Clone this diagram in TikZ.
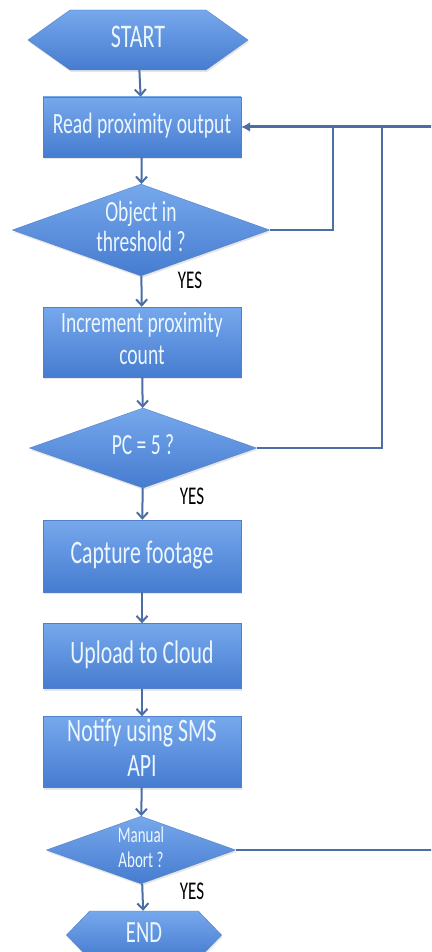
\documentclass[tikz,border=0pt]{standalone}
\usepackage{fontspec}
\setmainfont{Carlito}
\usepackage{graphicx}
\usetikzlibrary{shapes.geometric,shapes.symbols,shadows,arrows.meta}

\definecolor{boxtop}{RGB}{118,168,236}
\definecolor{boxbot}{RGB}{70,124,208}
\definecolor{boxline}{RGB}{82,128,200}
\definecolor{flowline}{RGB}{74,110,165}
\definecolor{boxtext}{RGB}{236,246,255}

% text drawn taller than wide, as in the original
\newcommand{\tallfont}[3]{\scalebox{1}[1.5]{\fontsize{#1}{#2}\selectfont\begin{tabular}{@{}c@{}}#3\end{tabular}}}

\tikzset{
  shade box/.style={draw=boxline, top color=boxtop, bottom color=boxbot, text=boxtext, inner sep=0pt,
    drop shadow={opacity=0.2, shadow xshift=1pt, shadow yshift=-2pt}},
  process/.style={shade box, rectangle, minimum width=198pt},
  decision/.style={shade box, diamond, aspect=2.8},
  terminal/.style={shade box, signal, signal to=east and west},
  flow/.style={draw=flowline, line width=2pt, -{Straight Barb[length=6pt,width=11pt]}},
  loopback/.style={draw=flowline, line width=2pt},
  yes/.style={text=black, inner sep=0pt}
}

\begin{document}
\begin{tikzpicture}[x=1pt, y=-1pt]
\fill[white] (0,0) rectangle (431,952);
\useasboundingbox (0,0) rectangle (431,952);
\clip (0,0) rectangle (431,952);

% Steps
\node[terminal, minimum width=220pt, minimum height=60pt, signal pointer angle=71] (start) at (138,40) {\tallfont{22}{26}{START}};
\node[process, minimum height=60pt] (read) at (142,127) {\tallfont{19.6}{22}{Read proximity output}};
\node[decision, minimum width=253pt, minimum height=90pt] (object) at (141,230) {\tallfont{19.5}{20}{Object in\\threshold ?}};
\node[process, minimum height=70pt] (count) at (142,342) {\tallfont{19.6}{21.5}{Increment proximity\\count}};
\node[decision, minimum width=227pt, minimum height=80pt] (pc) at (143,448) {\tallfont{19.5}{21}{PC = 5 ?}};
\node[process, minimum height=72pt] (capture) at (142,556) {\tallfont{21.8}{24}{Capture footage}};
\node[process, minimum height=65pt] (upload) at (142,656) {\tallfont{21.8}{24}{Upload to Cloud}};
\node[process, minimum height=71pt] (notify) at (142,752) {\tallfont{21.8}{23}{Notify using SMS\\API}};
\node[decision, minimum width=187pt, minimum height=66pt] (abort) at (141,850) {\tallfont{15}{17}{Manual\\Abort ?}};
\node[terminal, minimum width=155pt, minimum height=48pt, signal pointer angle=92] (end) at (144,935) {\tallfont{20.6}{24}{END}};

% YES labels
\node[yes] (yes1) at (190,282) {\tallfont{17}{20}{YES}};
\node[yes] (yes2) at (192,498) {\tallfont{17}{20}{YES}};
\node[yes] (yes3) at (192,893) {\tallfont{17}{20}{YES}};

% Main flow
\draw[flow] (start) -- (read);
\draw[flow] (read) -- (object);
\draw[flow] (object) -- (count);
\draw[flow] (count) -- (pc);
\draw[flow] (pc) -- (capture);
\draw[flow] (capture) -- (upload);
\draw[flow] (upload) -- (notify);
\draw[flow] (notify) -- (abort);
\draw[flow] (abort) -- (end);

% Loops back to the reading step
\coordinate (join1) at (333,127);
\coordinate (join2) at (382,127);
\coordinate (edgetop) at (440,127);
\coordinate (edgebot) at (440,850);
\draw[loopback] (object.east) -| (join1);
\draw[loopback] (pc.east) -| (join2);
\draw[draw=flowline, line width=3pt, -{Latex[length=9pt,width=10pt]}] (edgetop) -- (read.east);
\draw[loopback] (abort.east) -- (edgebot);
\end{tikzpicture}
\end{document}
